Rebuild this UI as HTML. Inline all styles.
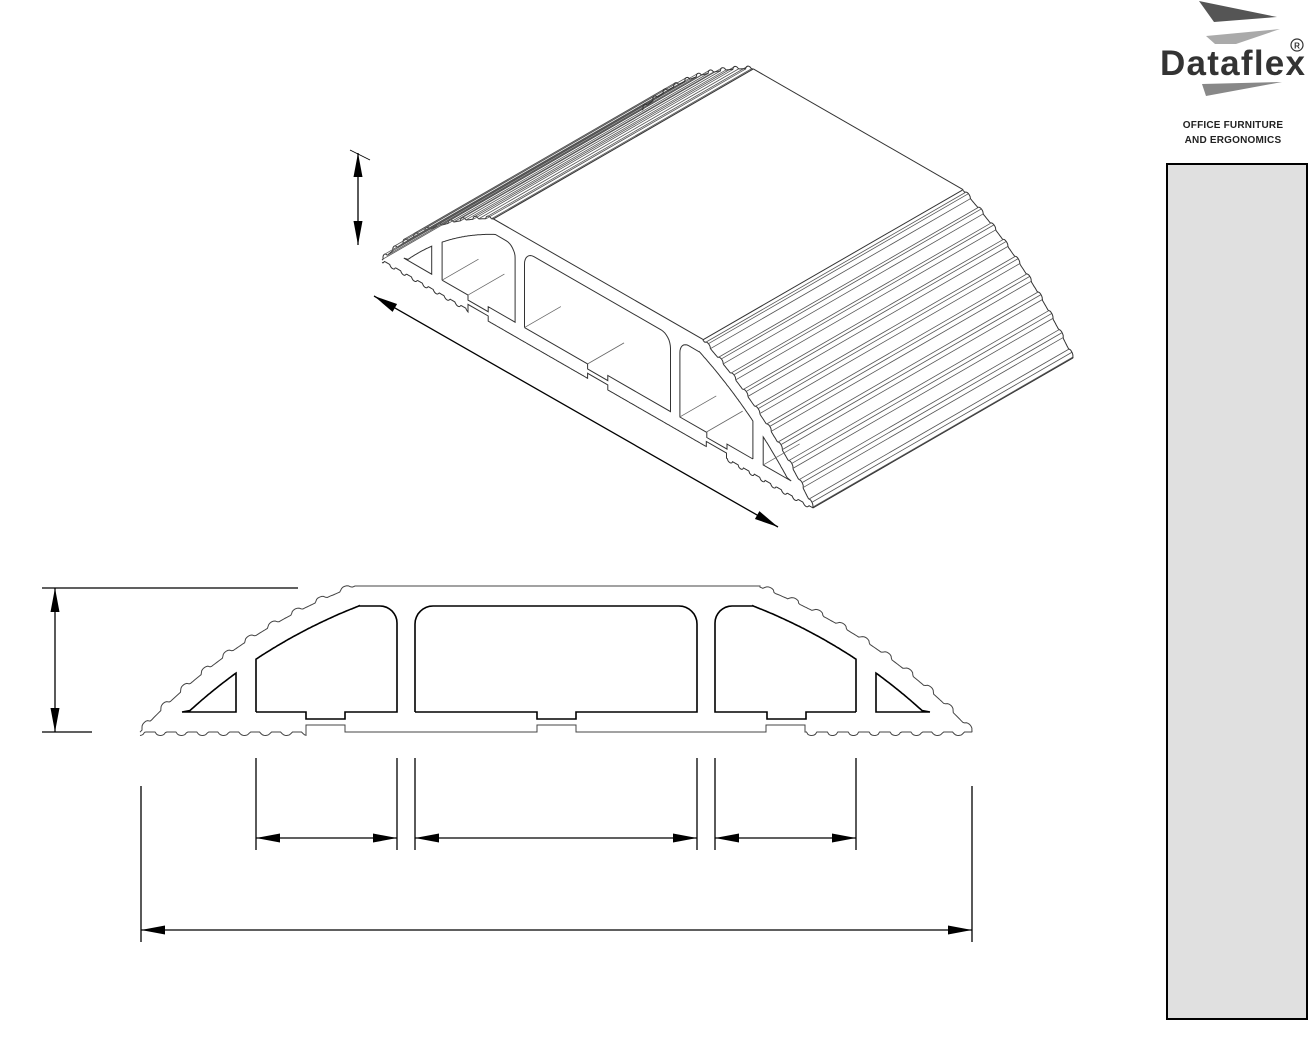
<!DOCTYPE html>
<html><head><meta charset="utf-8"><style>
html,body{margin:0;padding:0;background:#fff;}
body{width:1312px;height:1048px;position:relative;overflow:hidden;font-family:"Liberation Sans",sans-serif;}
#pn{position:absolute;left:1166px;top:163px;width:138px;height:853px;background:#e0e0e0;border:2px solid #000;}
.t1{position:absolute;left:1150px;width:166px;text-align:center;font-size:10px;font-weight:bold;color:#222;letter-spacing:0.2px;}
</style></head><body>
<svg id="s" width="1312" height="1048" style="position:absolute;left:0;top:0">
<g id="logo">
<polygon points="1199,1 1277,17 1214,22" fill="#555"/>
<polygon points="1206,36 1280,29 1236,44 1215,44" fill="#aaa"/>
<polygon points="1202,84 1282,82 1206,96" fill="#888"/>
<text x="1160" y="75" font-family="Liberation Sans, sans-serif" font-weight="bold" font-size="35" fill="#333" textLength="145">Dataflex</text>
<circle cx="1297" cy="45" r="6" fill="none" stroke="#333" stroke-width="1.2"/>
<text x="1297" y="48.5" text-anchor="middle" font-size="8" font-weight="bold" fill="#333">R</text>
</g>
</svg>
<div class="t1" style="top:120px">OFFICE FURNITURE</div>
<div class="t1" style="top:135px">AND ERGONOMICS</div>
<div id="pn"></div>
<script>
const S=document.getElementById('s'),NS='http://www.w3.org/2000/svg';
function el(n,a){const e=document.createElementNS(NS,n);for(const k in a)e.setAttribute(k,a[k]);S.appendChild(e);return e;}
const CX=556,CY=1113,RO=564,RI=544,SP=27;
function yOn(r,x){return CY-Math.sqrt(r*r-(x-CX)**2);}
function arcPts(r,x0,x1,bump){
 const a0=Math.atan2(yOn(r,x0)-CY,x0-CX),a1=Math.atan2(yOn(r,x1)-CY,x1-CX);
 const n=Math.max(2,Math.ceil(Math.abs(a1-a0)*r/1.5));const p=[];
 for(let i=0;i<=n;i++){const a=a0+(a1-a0)*i/n;let rr=r;
  if(bump){const s=Math.abs(a-a0)*r;const m=((s+4)%SP)-SP/2;if(Math.abs(m)<5.5)rr+=3.5*Math.sqrt(1-(m/5.5)**2);}
  p.push([CX+rr*Math.cos(a),CY+rr*Math.sin(a)]);}
 return p;}
function bumpEdges(x0,x1){
 const a0=Math.atan2(yOn(RO,x0)-CY,x0-CX),a1=Math.atan2(yOn(RO,x1)-CY,x1-CX);
 const L=Math.abs(a1-a0)*RO,res=[];
 for(let c=SP/2-4;c<L;c+=SP){[c-5.5,c+5.5,c].forEach((s,j)=>{if(s<0||s>L)return;const a=a0+(a1-a0)*s/L;const rr=RO+(j==2?3.5:0);res.push([CX+rr*Math.cos(a),CY+rr*Math.sin(a)]);});}
 return res;}
function hbump(x0,x1,y,bump){const p=[];const n=Math.ceil(Math.abs(x1-x0)/1.5);
 for(let i=0;i<=n;i++){const x=x0+(x1-x0)*i/n;let yy=y;
  if(bump){const m=((x-150)%21+21)%21-10.5;if(Math.abs(m)<5)yy+=3.5*Math.sqrt(1-(m/5)**2);}
  p.push([x,yy]);}return p;}
function rnd(cx,cy,r,a0,a1){const p=[];for(let i=0;i<=8;i++){const a=(a0+(a1-a0)*i/8)*Math.PI/180;p.push([cx+r*Math.cos(a),cy+r*Math.sin(a)]);}return p;}
let outer=[].concat(arcPts(RO,140,355,true),[[355,586],[760,586]],arcPts(RO,760,972,true),
 hbump(972,805,732,true),[[805,725],[766,725]],hbump(766,576,732,false),[[576,725],[537,725]],hbump(537,345,732,false),[[345,725],[306,725]],hbump(306,140,732,true));
let triL=[[182,712]].concat(arcPts(RI,190,236,false),[[236,712],[182,712]]);
let triR=triL.map(p=>[1112-p[0],p[1]]);
let cavL=[[256,712],[256,yOn(RI,256)]].concat(arcPts(RI,256,359,false),[[359,606]],rnd(380,623,17,-90,0),[[397,712],[345,712],[345,719],[306,719],[306,712],[256,712]]);
let cavR=cavL.map(p=>[1112-p[0],p[1]]);
let cavC=[[415,712],[415,624]].concat(rnd(433,624,18,180,270),rnd(679,624,18,270,360),[[697,712],[576,712],[576,719],[537,719],[537,712],[415,712]]);
const shapes=[outer,triL,triR,cavL,cavR,cavC];
function pstr(p,f){return p.map(q=>{const r=f?f(q):q;return r[0].toFixed(1)+','+r[1].toFixed(1)}).join(' ');}
shapes.forEach((sh,i)=>el('polyline',{points:pstr(sh),fill:'none',stroke:i==0?'#444':'#000','stroke-width':i==0?1:1.6}));
const LX=260,LY=-150;
function iso(q){const u=q[0]-140,v=732-q[1];return [382+u*0.518,260+u*0.298-v*0.72];}
function back(q){const r=iso(q);return [r[0]+LX,r[1]+LY];}
const g='#333';
shapes.forEach(sh=>el('polyline',{points:pstr(sh,iso),fill:'none',stroke:g,'stroke-width':1}));
function ridges(x0,x1){bumpEdges(x0,x1).forEach(p=>{const f=iso(p),b=back(p);
  el('line',{x1:f[0],y1:f[1],x2:b[0],y2:b[1],stroke:'#555','stroke-width':0.8});});}
ridges(140,355);ridges(760,972);
el('polyline',{points:pstr(arcPts(RO,140,355,true),back),fill:'none',stroke:g,'stroke-width':1});
el('polyline',{points:pstr(arcPts(RO,760,972,true),back),fill:'none',stroke:g,'stroke-width':1});
let a=back([355,586]),b=back([760,586]);el('line',{x1:a[0],y1:a[1],x2:b[0],y2:b[1],stroke:g});
a=iso([972,732]);b=back([972,732]);el('line',{x1:a[0],y1:a[1],x2:b[0],y2:b[1],stroke:g});
a=iso([355,586]);b=back([355,586]);el('line',{x1:a[0],y1:a[1],x2:b[0],y2:b[1],stroke:g});
a=iso([760,586]);b=back([760,586]);el('line',{x1:a[0],y1:a[1],x2:b[0],y2:b[1],stroke:g});
[[256,712],[415,712],[715,712],[876,712],[306,712],[537,712],[766,712]].forEach(p=>{const f=iso(p);el('line',{x1:f[0],y1:f[1],x2:f[0]+LX*0.14,y2:f[1]+LY*0.14,stroke:'#666','stroke-width':0.8});});
function arrow(x1,y1,x2,y2){el('line',{x1,y1,x2,y2,stroke:'#000','stroke-width':1.3});
 const hd=(x,y,dx,dy)=>{const L=Math.hypot(dx,dy),ux=dx/L,uy=dy/L;el('polygon',{points:`${x},${y} ${x+ux*24-uy*4.5},${y+uy*24+ux*4.5} ${x+ux*24+uy*4.5},${y+uy*24-ux*4.5}`,fill:'#000'});};
 hd(x1,y1,x2-x1,y2-y1);hd(x2,y2,x1-x2,y1-y2);}
function ln(x1,y1,x2,y2,w){el('line',{x1,y1,x2,y2,stroke:'#000','stroke-width':w||1.3});}
[256,397,415,697,715,856].forEach(x=>ln(x,758,x,850));
ln(141,786,141,942);ln(972,786,972,942);
arrow(256,838,397,838);arrow(415,838,697,838);arrow(715,838,856,838);arrow(141,930,972,930);
ln(42,588,298,588);ln(42,732,92,732);arrow(55,588,55,732);
ln(350,150,370,160,0.8);
arrow(358,153,358,245);
arrow(374,296,778,527);
</script>
</body></html>
